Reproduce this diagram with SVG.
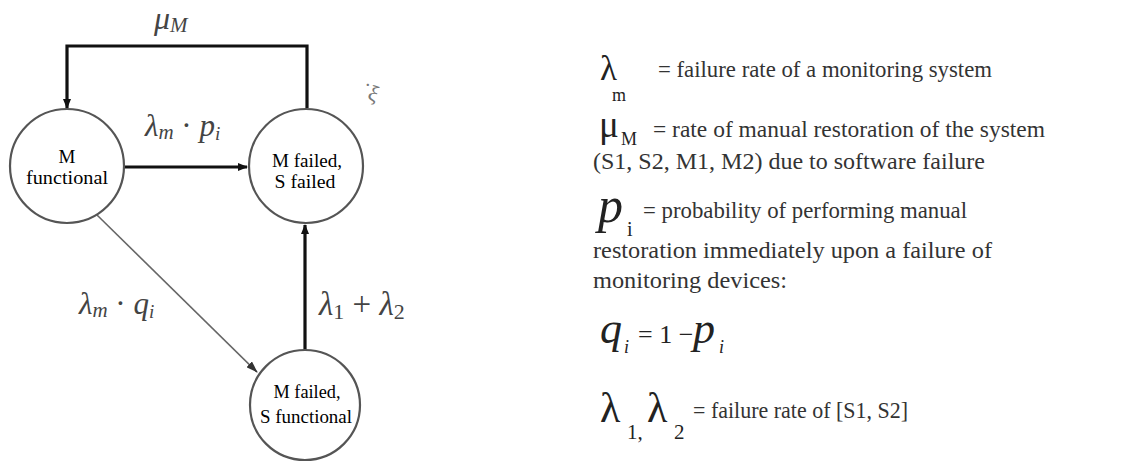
<svg xmlns="http://www.w3.org/2000/svg" width="1125" height="462" viewBox="0 0 1125 462">
<style>
.node{fill:#fff;stroke:#555;stroke-width:2.2}
.nl{font-family:"Liberation Serif","Times New Roman",serif;font-size:19px;fill:#000;text-anchor:middle}
.thick{fill:none;stroke:#111;stroke-width:3.2}
.thin{fill:none;stroke:#666;stroke-width:1.6}
.math{font-family:"Liberation Serif","Times New Roman",serif;font-style:italic;fill:#444}
.rt{font-family:"Liberation Serif","Times New Roman",serif;font-size:23px;fill:#333}
.sym{font-family:"Liberation Serif","Times New Roman",serif;fill:#222}
</style>
<defs>
<marker id="ah" markerWidth="10" markerHeight="8" refX="9" refY="4" orient="auto" markerUnits="userSpaceOnUse">
<path d="M0,0 L10,4 L0,8 Z" fill="#111"/>
</marker>
<marker id="ah2" markerWidth="12" markerHeight="8" refX="11" refY="4" orient="auto" markerUnits="userSpaceOnUse">
<path d="M0,0 L12,4 L0,8 Z" fill="#333"/>
</marker>
</defs>
<g id="connectors">
<path class="thick" d="M307,108 L307,46 L67,46 L67,108" marker-end="url(#ah)"/>
<path class="thick" d="M125,167 L247,167" marker-end="url(#ah)"/>
<path class="thin" d="M97,215 L257,372" marker-end="url(#ah2)"/>
<path class="thick" d="M305,350 L305,225" marker-end="url(#ah)"/>
<text class="math" x="154" y="29" font-size="32">μ<tspan font-size="21" dy="3">M</tspan></text>
<text class="math" x="145" y="136" font-size="31">λ<tspan font-size="21" dy="3">m</tspan><tspan dy="-3" font-style="normal"> · </tspan>p<tspan font-size="19" dy="4">i</tspan></text>
<text class="math" x="79" y="314" font-size="31">λ<tspan font-size="21" dy="3">m</tspan><tspan dy="-3" font-style="normal"> · </tspan>q<tspan font-size="19" dy="4">i</tspan></text>
<text class="math" x="319" y="315" font-size="33">λ<tspan font-style="normal" font-size="22" dy="4">1</tspan><tspan dy="-4" font-style="normal"> + </tspan>λ<tspan font-style="normal" font-size="22" dy="4">2</tspan></text>
</g>
<g id="n1">
<circle class="node" cx="67" cy="166" r="57"/>
<text class="nl" x="67" y="163">M</text>
<text class="nl" x="67" y="184" textLength="82" lengthAdjust="spacingAndGlyphs">functional</text>
</g>
<g id="n2">
<circle class="node" cx="306" cy="166" r="57"/>
<text class="nl" x="307" y="167" textLength="70" lengthAdjust="spacingAndGlyphs">M failed,</text>
<text class="nl" x="305" y="188" textLength="61" lengthAdjust="spacingAndGlyphs">S failed</text>
</g>
<g id="n3">
<circle class="node" cx="305" cy="405" r="55"/>
<text class="nl" x="307" y="398" textLength="67" lengthAdjust="spacingAndGlyphs">M failed,</text>
<text class="nl" x="306" y="423" textLength="92" lengthAdjust="spacingAndGlyphs">S functional</text>
</g>
<text x="362" y="101" font-family="Liberation Serif,serif" font-size="22" fill="#777" transform="rotate(20 374 92)">˙ξ</text>
<g id="legend">
<text class="sym" x="600" y="80" font-size="35">λ</text>
<text class="sym" x="612" y="101" font-size="18">m</text>
<text class="rt" x="658" y="77" textLength="334" lengthAdjust="spacingAndGlyphs">= failure rate of a monitoring system</text>
<text class="sym" x="599" y="137" font-size="37">μ</text>
<text class="sym" x="621" y="145" font-size="18">M</text>
<text class="rt" x="653" y="137" textLength="392" lengthAdjust="spacingAndGlyphs">= rate of manual restoration of the system</text>
<text class="rt" x="593" y="169" textLength="392" lengthAdjust="spacingAndGlyphs">(S1, S2, M1, M2) due to software failure</text>
<text class="sym" x="598" y="222" font-size="50" font-style="italic">p</text>
<text class="sym" x="627" y="236" font-size="20">i</text>
<text class="rt" x="643" y="218" textLength="324" lengthAdjust="spacingAndGlyphs">= probability of performing manual</text>
<text class="rt" x="593" y="258" textLength="399" lengthAdjust="spacingAndGlyphs">restoration immediately upon a failure of</text>
<text class="rt" x="593" y="288" textLength="194" lengthAdjust="spacingAndGlyphs">monitoring devices:</text>
<text class="sym" x="600" y="343" font-size="44" font-style="italic">q</text>
<text class="sym" x="624" y="353" font-size="18" font-style="italic">i</text>
<text class="sym" x="638" y="343" font-size="26">= 1 −</text>
<text class="sym" x="693" y="343" font-size="44" font-style="italic">p</text>
<text class="sym" x="719" y="353" font-size="18" font-style="italic">i</text>
<text class="sym" x="600" y="422" font-size="42">λ</text>
<text class="sym" x="627" y="439" font-size="21">1,</text>
<text class="sym" x="647" y="422" font-size="42">λ</text>
<text class="sym" x="674" y="439" font-size="21">2</text>
<text class="rt" x="693" y="418" textLength="215" lengthAdjust="spacingAndGlyphs">= failure rate of [S1, S2]</text>
</g>
</svg>
